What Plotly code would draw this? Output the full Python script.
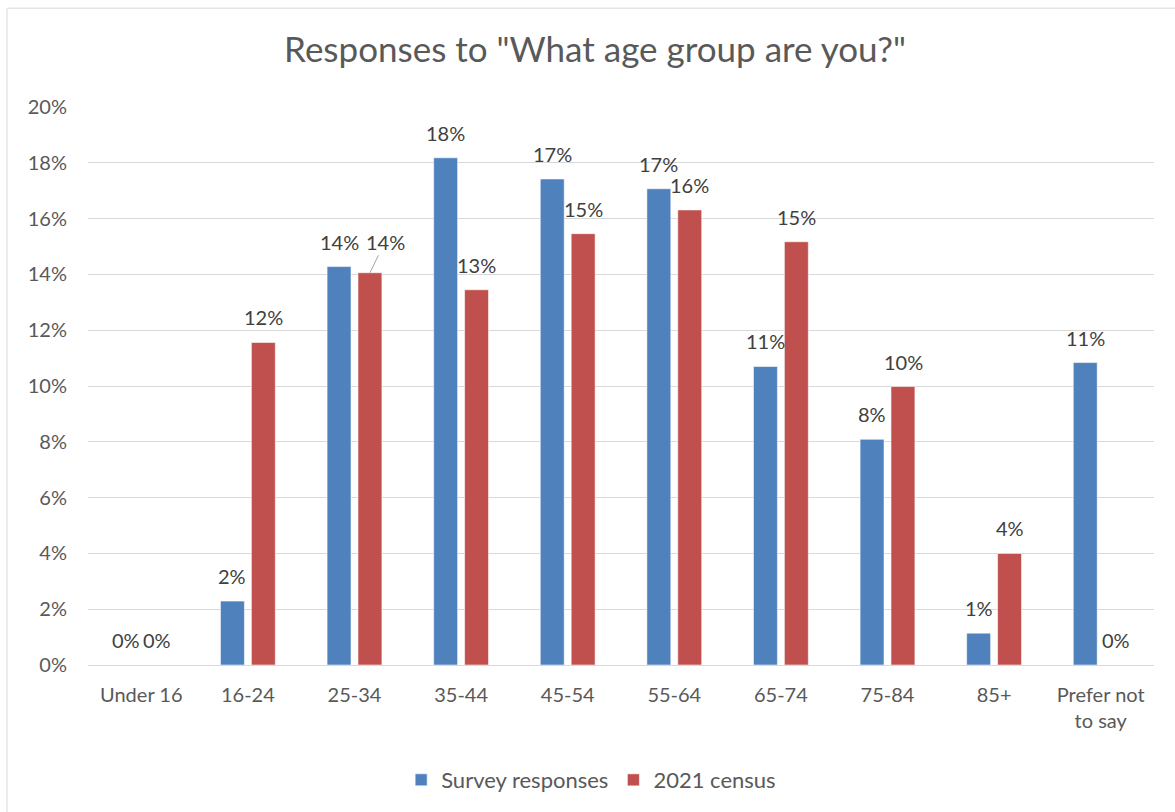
import plotly.graph_objects as go

categories = ["Under 16", "16-24", "25-34", "35-44", "45-54", "55-64",
              "65-74", "75-84", "85+", "Prefer not<br>to say"]
survey_pct = [0.0, 2.29, 14.28, 18.18, 17.42, 17.07, 10.70, 8.09, 1.14, 10.84]
census_pct = [0.0, 11.56, 14.06, 13.45, 15.46, 16.31, 15.17, 9.98, 4.00, 0.0]
series_names = ["Survey responses", "2021 census"]
colors = ["#4F81BD", "#C0504D"]
y_ticks = [0, 0.02, 0.04, 0.06, 0.08, 0.10, 0.12, 0.14, 0.16, 0.18, 0.20]

FONT = "Lato"
TXT = "#595959"
LBL = "#404040"

survey = [v / 100 for v in survey_pct]
census = [v / 100 for v in census_pct]

fig = go.Figure()
for name, vals, col in zip(series_names, [survey, census], colors):
    fig.add_trace(go.Bar(
        x=categories, y=vals, name=name,
        marker=dict(color=col, line=dict(color="rgba(255,255,255,0.55)", width=1)),
    ))

annotations = []
for si, vals in enumerate([survey, census]):
    sx = -15.5 if si == 0 else 15.5
    for ci, (c, v) in enumerate(zip(categories, vals)):
        label = f"{v * 100:.0f}%"
        if si == 1 and ci == 2:
            annotations.append(dict(
                x=c, y=v, xref="x", yref="y", text=label, showarrow=True,
                xshift=sx, ax=15, ay=-31, arrowhead=0, arrowwidth=1,
                arrowcolor="#A6A6A6", standoff=0,
                font=dict(family=FONT, size=20, color=LBL)))
        else:
            annotations.append(dict(
                x=c, y=v, xref="x", yref="y", text=label, showarrow=False,
                xshift=sx, yshift=25, yanchor="middle", xanchor="center",
                font=dict(family=FONT, size=20, color=LBL)))

fig.update_layout(
    width=1175, height=812,
    margin=dict(l=88, r=21, t=107, b=146),
    paper_bgcolor="white", plot_bgcolor="white",
    barmode="group", bargap=0.42, bargroupgap=0.226,
    title=dict(text='Responses to "What age group are you?"',
               x=595 / 1175, xanchor="center", xref="container",
               y=1 - 50 / 812, yanchor="middle",
               font=dict(family=FONT, size=35, color=TXT)),
    font=dict(family=FONT, size=20, color=TXT),
    showlegend=True,
    legend=dict(orientation="h", x=0.472, xanchor="center", y=-0.204,
                yanchor="middle", font=dict(family=FONT, size=22, color=TXT),
                itemwidth=30, tracegroupgap=0),
    annotations=annotations,
    shapes=[dict(type="rect", xref="paper", yref="paper",
                 x0=(7 - 88) / 1066, x1=1.5, y0=-1.0, y1=(666 - 8) / 559,
                 line=dict(color="#D9D9D9", width=1), fillcolor="rgba(0,0,0,0)",
                 layer="below")],
)
fig.update_yaxes(range=[0, 0.2], tickvals=y_ticks, tickformat=".0%",
                 showgrid=True, gridcolor="#D9D9D9", gridwidth=1,
                 zeroline=False, showline=False, ticks="",
                 ticklabelstandoff=20,
                 tickfont=dict(family=FONT, size=20, color=TXT))
fig.update_xaxes(showline=True, linecolor="#D9D9D9", linewidth=1,
                 ticks="", showgrid=False, ticklabelstandoff=12,
                 tickfont=dict(family=FONT, size=20, color=TXT))

fig.write_html("out.html")
